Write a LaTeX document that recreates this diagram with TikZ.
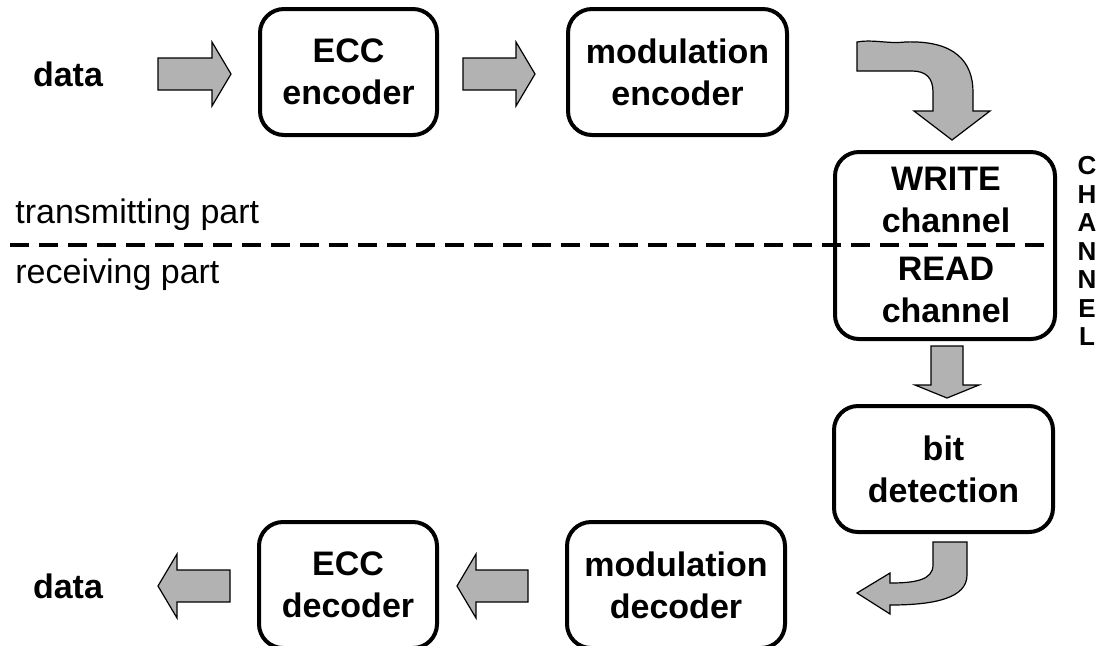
\documentclass[tikz,border=0pt]{standalone}
\usepackage{fontspec}
\setmainfont{Liberation Sans}
\usetikzlibrary{calc}
\definecolor{arrowgray}{RGB}{178,178,178}

\tikzset{
  box/.style={draw, line width=2pt, rounded corners=12pt, inner sep=0pt, align=center,
    font=\fontsize{17}{21}\selectfont\bfseries},
  lbl/.style={inner sep=0pt, align=center, font=\fontsize{17}{21}\selectfont\bfseries},
  parttext/.style={inner sep=0pt, anchor=west, font=\fontsize{17}{21}\selectfont},
  fatarrow/.style={draw=black, line width=0.6pt, fill=arrowgray, line join=miter},
  blockarr/.style={to path={let \p1=(\tikztostart), \p2=(\tikztotarget), \p3=($(\p2)!#1!(\p1)$) in
    ($(\p1)!8pt!90:(\p2)$) -- ($(\p3)!8pt!-90:(\p1)$) -- ($(\p3)!16pt!-90:(\p1)$) -- (\p2)
    -- ($(\p3)!16pt!90:(\p1)$) -- ($(\p3)!8pt!90:(\p1)$) -- ($(\p1)!8pt!-90:(\p2)$) -- cycle}},
  blockarr/.default=9.5pt,
  dashline/.style={line width=1.6pt, dash pattern=on 9.5pt off 5pt}
}

\begin{document}
\begin{tikzpicture}[x=0.5pt, y=-0.5pt]
  \useasboundingbox (0,0) rectangle (1103,645);
  % transmitting side
  \node[lbl] (datain) at (68,74) {data};
  \node[box, minimum width=88.5pt, minimum height=63pt] (eccenc) at (348.5,72) {ECC\\encoder};
  \node[box, minimum width=109.5pt, minimum height=63pt] (modenc) at (677.5,72) {modulation\\encoder};
  % channel
  \node[box, minimum width=110pt, minimum height=93.5pt] (chan) at (945,245.5) {};
  \node[lbl] (wrchan) at (946,200) {WRITE\\channel};
  \node[lbl] (rdchan) at (946,290) {READ\\channel};
  \foreach \ch [count=\i from 0] in {C,H,A,N,N,E,L} {
    \node[inner sep=0pt, font=\fontsize{13}{14}\selectfont\bfseries] (chan\i) at (1087,166+28.5*\i) {\ch};
  }
  % receiving side
  \node[box, minimum width=109.5pt, minimum height=63pt] (bitdet) at (943.5,469) {bit\\detection};
  \node[box, minimum width=109pt, minimum height=63pt] (moddec) at (676,585) {modulation\\decoder};
  \node[box, minimum width=89pt, minimum height=63pt] (eccdec) at (348,585) {ECC\\decoder};
  \node[lbl] (dataout) at (68,586) {data};
  % split line
  \node[parttext] (tpart) at (15,215) {transmitting part};
  \node[parttext] (rpart) at (15,275) {receiving part};
  \coordinate (dl) at (10,245);
  \coordinate (dr) at (1048,245);
  \draw[dashline] (dl) -- (dr);
  % straight arrows
  \coordinate (a1s) at (158,74);  \coordinate (a1e) at (231,74);
  \coordinate (a2s) at (463,74);  \coordinate (a2e) at (535,74);
  \coordinate (a3s) at (947,346); \coordinate (a3e) at (947,398);
  \coordinate (a4s) at (528,586); \coordinate (a4e) at (457,586);
  \coordinate (a5s) at (230,586); \coordinate (a5e) at (158,586);
  \draw[fatarrow] (a1s) to[blockarr] (a1e);
  \draw[fatarrow] (a2s) to[blockarr] (a2e);
  \draw[fatarrow] (a3s) to[blockarr=6.5pt] (a3e);
  \draw[fatarrow] (a4s) to[blockarr] (a4e);
  \draw[fatarrow] (a5s) to[blockarr] (a5e);
  % bent arrows
  \coordinate (c1e) at (952,140);
  \draw[fatarrow] (c1e) -- (914,111) -- (933,111) -- (933,92) .. controls (933,78) and (926,71) .. (912,71)
    -- (857,71) -- (857,42) .. controls (872,39) and (888,44) .. (905,42)
    .. controls (955,40) and (973,62) .. (973,92) -- (973,111) -- (990,111) -- cycle;
  \coordinate (c2e) at (857,593);
  \draw[fatarrow] (c2e) -- (890,573) -- (890,583) .. controls (915,583) and (933,580) .. (933,565)
    -- (933,542) -- (967,542) -- (967,575) .. controls (967,598) and (935,605) .. (890,605)
    -- (890,614) -- cycle;
\end{tikzpicture}
\end{document}
